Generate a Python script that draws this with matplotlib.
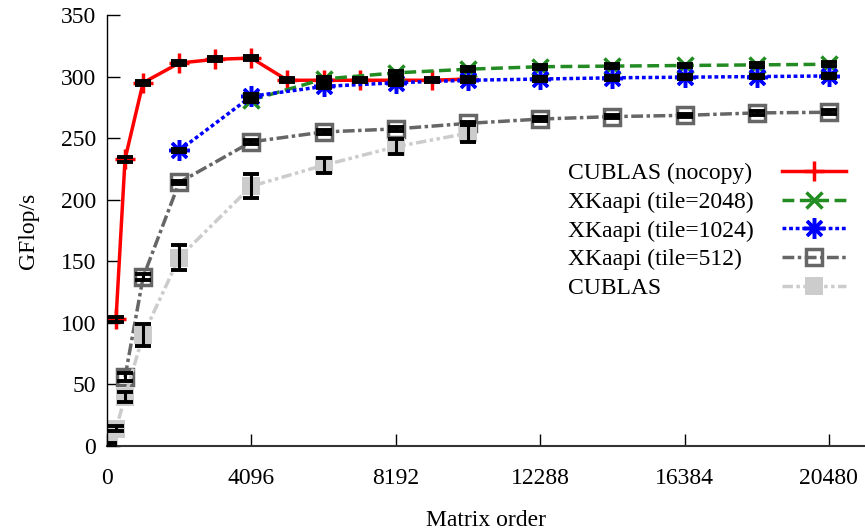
import matplotlib
matplotlib.use('Agg')
import matplotlib.pyplot as plt
from matplotlib.lines import Line2D

plt.rcParams['font.family'] = ['Liberation Serif', 'DejaVu Serif']
plt.rcParams['font.size'] = 17

# CUBLAS (nocopy)
n_nocopy = [256, 512, 1024, 2048, 3072, 4096, 5120, 6144, 7168, 8192, 9216, 10240]
gf_nocopy = [103, 233, 295, 311, 314, 315, 297, 297, 297, 297, 297, 298]
err_nocopy = [2, 2, 1.5, 1.5, 1.5, 1.5, 1.5, 1.5, 1.5, 1.5, 1.5, 1.5]

# XKaapi (tile=2048)
n_t2048 = [4096, 6144, 8192, 10240, 12288, 14336, 16384, 18432, 20480]
gf_t2048 = [281, 298, 303, 306, 308, 308.5, 309, 309.5, 310]
err_t2048 = [1.5] * 9

# XKaapi (tile=1024)
n_t1024 = [2048, 4096, 6144, 8192, 10240, 12288, 14336, 16384, 18432, 20480]
gf_t1024 = [240, 284, 292, 295, 297, 298, 299, 299.5, 300, 300.5]
err_t1024 = [1.5] * 10

# XKaapi (tile=512)
n_t512 = [512, 1024, 2048, 4096, 6144, 8192, 10240, 12288, 14336, 16384, 18432, 20480]
gf_t512 = [56, 137, 214, 247, 255, 257.5, 262, 265.5, 267.5, 268.5, 270.5, 271]
err_t512 = [3, 2.5, 1.5, 1.5, 1.5, 1.5, 1.5, 1.5, 1.5, 1.5, 1.5, 1.5]

# CUBLAS
n_cublas = [64, 256, 512, 1024, 2048, 4096, 6144, 8192, 10240]
gf_cublas = [1, 14, 40, 90, 153, 211, 228, 243, 254]
err_cublas = [1.5, 2, 4, 9, 10, 9.5, 6, 6, 7]

labels = ['CUBLAS (nocopy)', 'XKaapi (tile=2048)', 'XKaapi (tile=1024)',
          'XKaapi (tile=512)', 'CUBLAS']
xticks = [0, 4096, 8192, 12288, 16384, 20480]
yticks = [0, 50, 100, 150, 200, 250, 300, 350]

fig = plt.figure(figsize=(8.65, 5.32), dpi=100)
ax = fig.add_axes([107 / 865, 86 / 532, 758 / 865, 431 / 532])

h1, = ax.plot(n_nocopy, gf_nocopy, color='#ff0000', lw=2.5, ls='-',
              marker='+', ms=15, mew=2.5)
h2, = ax.plot(n_t2048, gf_t2048, color='#228b22', lw=2.5, ls=(0, (3.4, 1.6)),
              marker='x', ms=12, mew=2.5)
h3, = ax.plot(n_t1024, gf_t1024, color='#0000ff', lw=2.5, ls=(0, (1.1, 0.8)),
              marker=(8, 2, 0), ms=15, mew=2.5)
h4, = ax.plot(n_t512, gf_t512, color='#666666', lw=2.5, ls=(0, (3.4, 1.0, 1.0, 1.0)),
              marker='s', ms=11, mew=2.5, mfc='none', mec='#666666')
h5, = ax.plot(n_cublas, gf_cublas, color='#cccccc', lw=2.5,
              ls=(0, (3.0, 1.0, 1.0, 1.0, 1.0, 1.0)),
              marker='s', ms=13, mew=0, mfc='#cccccc')

for n, g, e in [(n_nocopy, gf_nocopy, err_nocopy), (n_t2048, gf_t2048, err_t2048),
                (n_t1024, gf_t1024, err_t1024), (n_t512, gf_t512, err_t512),
                (n_cublas, gf_cublas, err_cublas)]:
    ax.errorbar(n, g, yerr=e, fmt='none', ecolor='black', elinewidth=2.2,
                capsize=5.5, capthick=2.8, zorder=5)

ax.set_xlim(0, 21504)
ax.set_ylim(0, 350)
ax.set_xticks(xticks)
ax.set_xticklabels([str(t) for t in xticks])
ax.set_yticks(yticks)
ax.spines['top'].set_visible(False)
ax.spines['right'].set_visible(False)
ax.spines['left'].set_linewidth(1)
ax.spines['bottom'].set_linewidth(1.5)
ax.spines['bottom'].set_color('#333333')
ax.tick_params(direction='in', length=9, width=1)
ax.tick_params(axis='x', pad=16)
ax.tick_params(axis='y', pad=8)

ax.set_xlabel('Matrix order')
ax.xaxis.set_label_coords(0.5, -0.148)
ax.set_ylabel('GFlop/s')
ax.yaxis.set_label_coords(-0.09, 0.5)

# legend: left-aligned texts, samples in a column on the right
blank = [Line2D([], [], ls='none') for _ in labels]
leg_txt = ax.legend(blank, labels, loc='upper left', bbox_to_anchor=(0.608, 0.658),
                    frameon=False, handlelength=0, handletextpad=0, borderpad=0,
                    borderaxespad=0, labelspacing=0.31)
ax.add_artist(leg_txt)
ax.legend([h1, h2, h3, h4, h5], [' '] * 5, loc='upper left',
          bbox_to_anchor=(0.8905, 0.658), frameon=False, handlelength=2.7,
          handletextpad=0, borderpad=0, borderaxespad=0, labelspacing=0.31,
          numpoints=1)

fig.savefig('out.png', dpi=100)
